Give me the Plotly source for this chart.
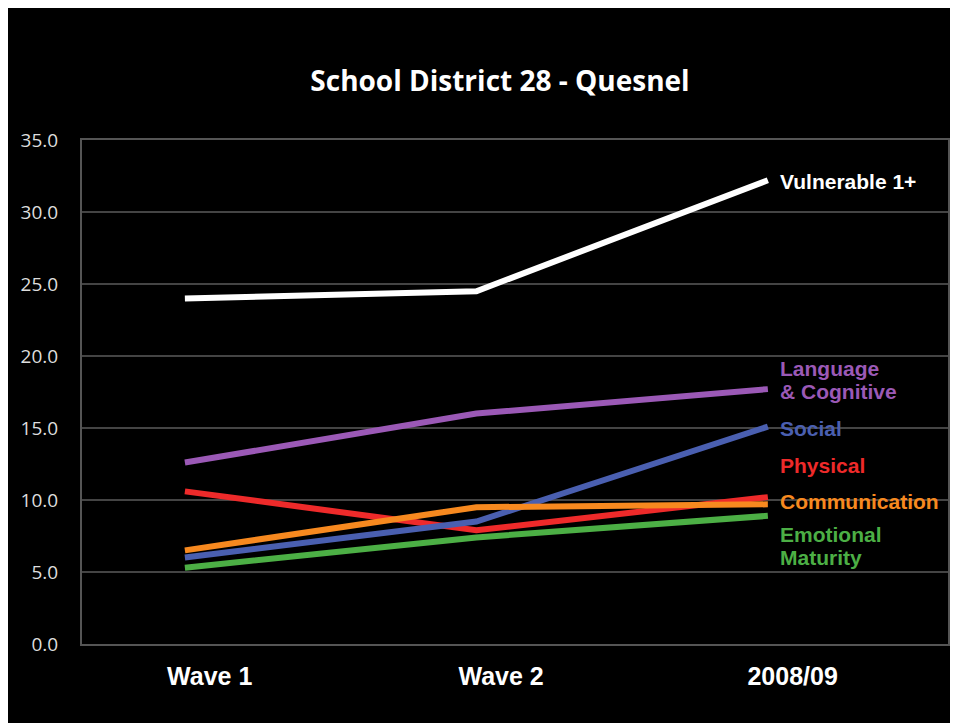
import plotly.graph_objects as go

categories = ["Wave 1", "Wave 2", "2008/09"]
series_names = ["Vulnerable 1+", "Language<br>& Cognitive", "Social", "Physical", "Communication", "Emotional<br>Maturity"]
vulnerable = [24.0, 24.5, 32.2]
language = [12.6, 16.0, 17.7]
social = [6.0, 8.5, 15.1]
physical = [10.6, 7.9, 10.2]
communication = [6.5, 9.5, 9.7]
emotional = [5.3, 7.4, 8.9]
y_ticks = [0, 5, 10, 15, 20, 25, 30, 35]
colors = ["#ffffff", "#9b59b6", "#4a5fb0", "#ee2a2a", "#f7891f", "#4caf45"]
label_y = [32.1, 18.3, 15.0, 12.4, 9.9, 6.8]

series = [vulnerable, language, social, physical, communication, emotional]
xs = list(range(len(categories)))

fig = go.Figure()
order = [3, 2, 4, 5, 1, 0]
for i in order:
    fig.add_trace(go.Scatter(x=xs, y=series[i], mode="lines",
                             line=dict(color=colors[i], width=6),
                             showlegend=False, hoverinfo="skip"))

line_gap = 23
for i, name in enumerate(series_names):
    parts = name.split("<br>")
    n = len(parts)
    for j, part in enumerate(parts):
        fig.add_annotation(x=2, y=label_y[i], xref="x", yref="y", text="<b>" + part + "</b>",
                           xanchor="left", yanchor="middle", xshift=10,
                           yshift=((n - 1) / 2 - j) * line_gap, showarrow=False, align="left",
                           font=dict(family="Liberation Sans", size=21, color=colors[i]))

fig.add_shape(type="rect", xref="paper", yref="paper", x0=-0.2, x1=1.2, y0=-0.3, y1=1.4,
              fillcolor="black", line=dict(width=0), layer="below")

fig.update_layout(
    width=958, height=715,
    margin=dict(l=74, r=18, t=132, b=79),
    paper_bgcolor="black", plot_bgcolor="rgba(0,0,0,0)",
    title=dict(text="<b>School District 28 - Quesnel</b>", x=492/958, xanchor="center",
               y=1 - 73/715, yanchor="middle",
               font=dict(family="Open Sans", size=28, color="white")),
    xaxis=dict(range=[-0.353, 2.618], tickvals=[x + 0.085 for x in xs], ticktext=["<b>" + c + "</b>" for c in categories],
               showgrid=False, zeroline=False, showline=True, linecolor="#555", linewidth=2, mirror=True,
               ticks="", ticklabelstandoff=9,
               tickfont=dict(family="Liberation Sans", size=25, color="white")),
    yaxis=dict(range=[0, 35], tickvals=y_ticks, ticktext=[f"{v:.1f}" for v in y_ticks],
               showgrid=True, gridcolor="#444", gridwidth=2, zeroline=False,
               showline=True, linecolor="#555", linewidth=2, mirror=True, ticks="",
               ticklabelstandoff=18,
               tickfont=dict(family="Open Sans", size=19, color="#dddddd")),
)

fig.write_html("out.html")
